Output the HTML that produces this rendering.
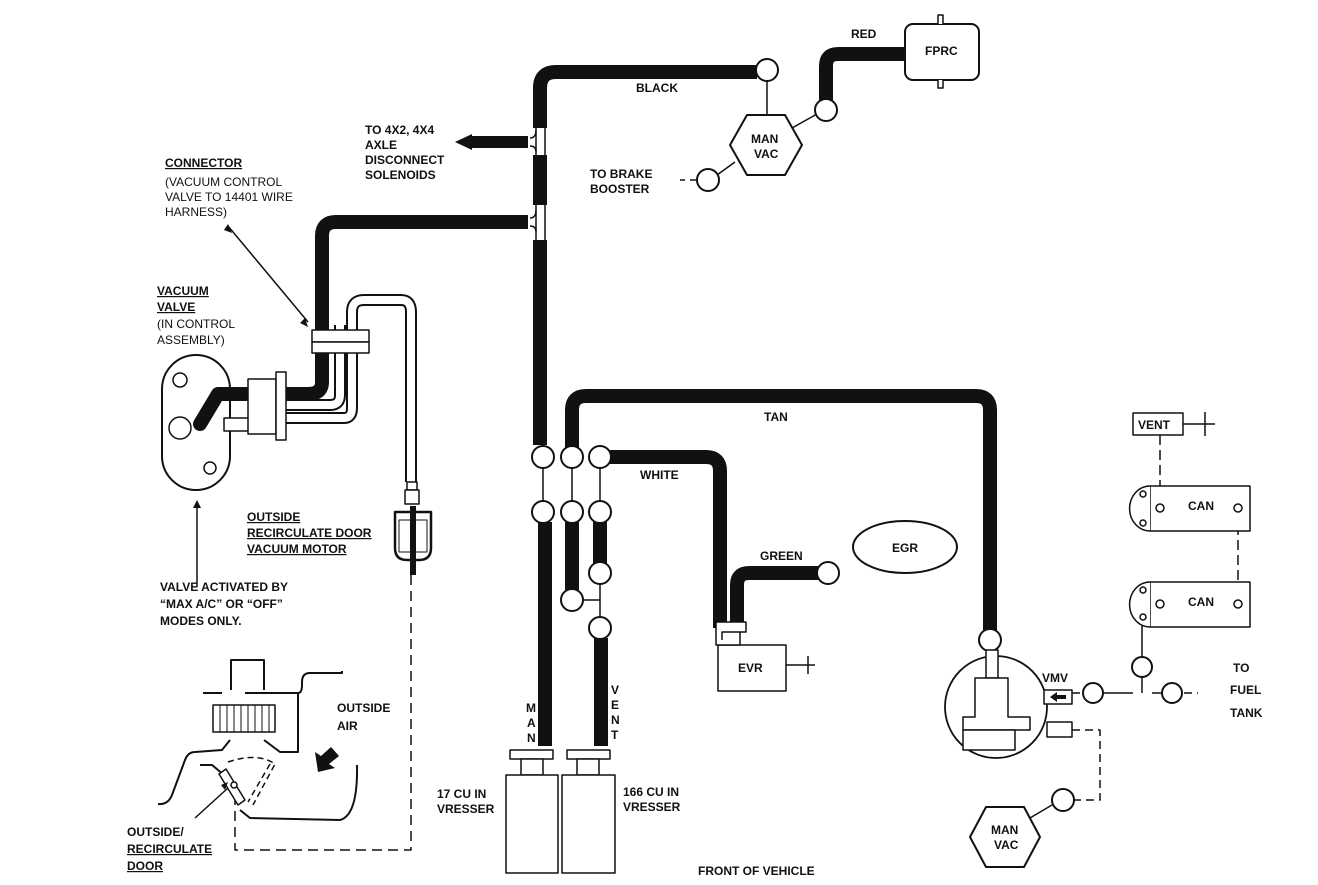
<!DOCTYPE html>
<html><head><meta charset="utf-8"><style>
html,body{margin:0;padding:0;background:#fff;}
svg{display:block;}
text{font-family:"Liberation Sans",sans-serif;font-weight:bold;font-size:12px;fill:#111;}
.r{font-weight:normal;}
</style></head><body>
<svg width="1318" height="885" viewBox="0 0 1318 885" xmlns="http://www.w3.org/2000/svg">
<g fill="none" stroke="#111" stroke-linecap="butt" stroke-linejoin="round">
<path d="M540,128 L540,88 Q540,72 556,72 L757,72" stroke-width="14"/>
<path d="M540,155 L540,205" stroke-width="14"/>
<path d="M540,240 L540,445" stroke-width="14"/>
<path d="M545,522 L545,746" stroke-width="14"/>
<path d="M536,128 L536,155 M545,128 L545,155 M536,205 L536,240 M545,205 L545,240" stroke-width="1.5"/>
<path d="M530,138 Q536,138 536,130 M530,146 Q536,146 536,152" stroke-width="1.5"/>
<path d="M530,218 Q536,218 536,210 M530,226 Q536,226 536,232" stroke-width="1.5"/>
<path d="M528,142 L470,142" stroke-width="12"/>
<path d="M528,222 L336,222 Q322,222 322,236 L322,382 Q322,394 308,394 L285,394" stroke-width="14"/>
<path d="M248,394 L218,394 L200,424" stroke-width="14" stroke-linecap="round"/>
<path d="M572,447 L572,410 Q572,396 586,396 L976,396 Q990,396 990,410 L990,630" stroke-width="14"/>
<path d="M572,522 L572,590" stroke-width="14"/>
<path d="M610,457 L706,457 Q720,457 720,471 L720,628" stroke-width="14"/>
<path d="M600,522 L600,563" stroke-width="14"/>
<path d="M601,638 L601,746" stroke-width="14"/>
<path d="M737,630 L737,585 Q737,573 749,573 L818,573" stroke-width="14"/>
<path d="M826,100 L826,66 Q826,54 838,54 L905,54" stroke-width="14"/>
<g stroke-width="1.5">
<path d="M543,467 L543,502 M572,467 L572,502 M600,467 L600,502"/>
<path d="M583,600 L600,600 L600,618 M600,583 L600,600"/>
<path d="M767,81 L767,115 M792,128 L817,114 M735,162 L717,175"/>
<path d="M1160,435 L1160,500" stroke-dasharray="10,5"/>
<path d="M1238,510 L1238,598" stroke-dasharray="10,5"/>
<path d="M1142,625 L1142,657"/>
<path d="M1142,677 L1142,693 M1103,693 L1133,693 M1152,693 L1162,693"/>
<path d="M1184,693 L1198,693 M1072,693 L1083,693" stroke-dasharray="8,5"/>
<path d="M1072,730 L1100,730 L1100,800 L1073,800" stroke-dasharray="8,5"/>
<path d="M1052,805 L1030,818"/>
<path d="M698,180 L680,180" stroke-dasharray="8,5"/>
<path d="M786,665 L815,665 M808,656 L808,674"/>
<path d="M1183,424 L1215,424 M1205,412 L1205,436"/>
<path d="M228,226 L308,322"/>
<path d="M197,587 L197,505"/>
<path d="M411,575 L411,850 L235,850 L235,792" stroke-dasharray="10,6"/>
</g>
<g fill="#fff" stroke-width="2">
<circle cx="767" cy="70" r="11"/><circle cx="826" cy="110" r="11"/><circle cx="708" cy="180" r="11"/>
<circle cx="543" cy="457" r="11"/><circle cx="572" cy="457" r="11"/><circle cx="600" cy="457" r="11"/>
<circle cx="543" cy="512" r="11"/><circle cx="572" cy="512" r="11"/><circle cx="600" cy="512" r="11"/>
<circle cx="600" cy="573" r="11"/><circle cx="572" cy="600" r="11"/><circle cx="600" cy="628" r="11"/>
<circle cx="828" cy="573" r="11"/><circle cx="990" cy="640" r="11"/>
<circle cx="1142" cy="667" r="10"/><circle cx="1093" cy="693" r="10"/><circle cx="1172" cy="693" r="10"/>
<circle cx="1063" cy="800" r="11"/>
</g>
<polygon points="747,115 785,115 802,145 785,175 747,175 730,145" fill="#fff" stroke-width="2"/>
<polygon points="986,807 1024,807 1040,837 1024,867 986,867 970,837" fill="#fff" stroke-width="2"/>
<rect x="905" y="24" width="74" height="56" rx="8" fill="#fff" stroke-width="2"/>
<path d="M938,24 L938,15 L943,15 L943,24 M938,80 L938,88 L943,88 L943,80" stroke-width="1.5" fill="#fff"/>
<ellipse cx="905" cy="547" rx="52" ry="26" fill="#fff" stroke-width="2"/>
<rect x="718" y="645" width="68" height="46" fill="#fff" stroke-width="1.5"/>
<path d="M716,622 L746,622 L746,632 L740,632 L740,645 L716,645 Z M722,640 L722,632 L740,632" stroke-width="1.5" fill="#fff"/>
<g stroke-width="1.5" fill="#fff">
<rect x="510" y="750" width="43" height="9"/><rect x="521" y="759" width="22" height="16"/><rect x="506" y="775" width="52" height="98"/>
<rect x="567" y="750" width="43" height="9"/><rect x="577" y="759" width="22" height="16"/><rect x="562" y="775" width="53" height="98"/>
</g>
<rect x="1133" y="413" width="50" height="22" fill="#fff" stroke-width="1.5"/>
<g stroke-width="1.5" fill="#fff">
<rect x="1150" y="486" width="100" height="45"/><path d="M1150,486 A20,22 0 0,0 1150,531"/>
<rect x="1150" y="582" width="100" height="45"/><path d="M1150,582 A20,22 0 0,0 1150,627"/>
<circle cx="1160" cy="508" r="4"/><circle cx="1238" cy="508" r="4"/><circle cx="1143" cy="494" r="3"/><circle cx="1143" cy="523" r="3"/>
<circle cx="1160" cy="604" r="4"/><circle cx="1238" cy="604" r="4"/><circle cx="1143" cy="590" r="3"/><circle cx="1143" cy="617" r="3"/>
</g>
<circle cx="996" cy="707" r="51" fill="#fff" stroke-width="1.8"/>
<g stroke-width="1.5" fill="#fff">
<rect x="986" y="650" width="12" height="28"/>
<path d="M975,678 L1008,678 L1008,717 L1030,717 L1030,730 L963,730 L963,717 L975,717 Z"/>
<rect x="963" y="730" width="52" height="20"/>
<rect x="1044" y="690" width="28" height="14"/><rect x="1047" y="722" width="25" height="15"/>
</g>
<path d="M1066,697 L1055,697" stroke-width="4"/><path d="M1050,697 L1057,692 L1057,702 Z" fill="#111" stroke="none"/>
<rect x="162" y="355" width="68" height="135" rx="34" fill="none" stroke-width="2"/>
<g stroke-width="1.5" fill="#fff">
<circle cx="180" cy="380" r="7"/><circle cx="180" cy="428" r="11"/><circle cx="210" cy="468" r="6"/>
</g>
<path d="M285,418 L344,418 Q352,418 352,408 L352,312 Q352,300 364,300 L401,300 Q411,300 411,312 L411,482" stroke-width="12"/>
<path d="M285,418 L344,418 Q352,418 352,408 L352,312 Q352,300 364,300 L401,300 Q411,300 411,312 L411,482" stroke-width="8" stroke="#fff"/>
<path d="M285,405 L330,405 Q340,405 340,395 L340,325" stroke-width="12"/>
<path d="M285,405 L330,405 Q340,405 340,395 L340,325" stroke-width="8" stroke="#fff"/>
<g stroke-width="1.5" fill="#fff">
<rect x="312" y="330" width="57" height="12"/><rect x="312" y="342" width="57" height="11"/>
<rect x="224" y="418" width="26" height="13"/>
<rect x="248" y="379" width="28" height="55"/><rect x="276" y="372" width="10" height="68"/>
<rect x="407" y="482" width="10" height="8"/><rect x="405" y="490" width="14" height="14"/>
<path d="M395,512 L431,512 L431,548 Q431,560 419,560 L407,560 Q395,560 395,548 Z" stroke-width="2.5"/>
<path d="M399,520 L427,520 L427,552 L399,552 Z" stroke-width="1"/>
</g>
<path d="M413,506 L413,575" stroke-width="6"/>
<g stroke-width="2">
<path d="M231,690 L231,660 L264,660 L264,690"/>
<path d="M203,693 L222,693 M245,693 L298,693 Q302,693 302,685 L302,682 Q302,673 310,673 L342,673 L342,671"/>
<rect x="213" y="705" width="62" height="27" stroke-width="1.5"/>
<path d="M220,705 V732 M227,705 V732 M234,705 V732 M241,705 V732 M248,705 V732 M255,705 V732 M262,705 V732 M269,705 V732" stroke-width="1"/>
<path d="M298,693 L298,752 L280,752 L264,740"/>
<path d="M230,740 L222,750 L195,752 Q188,752 185,760 L172,795 Q168,805 158,804"/>
<path d="M200,765 L212,765 L224,775"/>
<path d="M240,810 L250,818 L340,820 Q358,815 357,765"/>
<path d="M226,769 L245,800 L238,805 L219,774 Z" stroke-width="1.5" fill="#fff"/>
<path d="M228,762 Q258,752 275,764 L253,805" stroke-dasharray="6,4" stroke-width="1.5"/>
<path d="M270,764 L248,802" stroke-dasharray="6,4" stroke-width="1.5"/>
<path d="M195,818 L228,788" stroke-width="1.5"/>
</g>
<circle cx="234" cy="785" r="3" fill="#fff" stroke-width="1.5"/>
<path d="M228,782 L221,785 L225,790 Z" fill="#111" stroke="none"/>
<path d="M232,233 L228,224 L224,230 Z M308,327 L300,323 L305,318 Z" fill="#111" stroke="none"/>
<path d="M197,500 L193,508 L201,508 Z" fill="#111" stroke="none"/>
</g>
<path d="M472,134 L455,142 L472,150 Z" fill="#111"/>
<polygon points="318,772 315,752 321,756 331,747 339,756 329,764 335,768" fill="#111"/>
<text x="165" y="167" text-decoration="underline">CONNECTOR</text>
<text class="r" x="165" y="186">(VACUUM CONTROL</text>
<text class="r" x="165" y="201">VALVE TO 14401 WIRE</text>
<text class="r" x="165" y="216">HARNESS)</text>
<text x="157" y="295" text-decoration="underline">VACUUM</text>
<text x="157" y="311" text-decoration="underline">VALVE</text>
<text class="r" x="157" y="328">(IN CONTROL</text>
<text class="r" x="157" y="344">ASSEMBLY)</text>
<text x="365" y="134">TO 4X2, 4X4</text>
<text x="365" y="149">AXLE</text>
<text x="365" y="164">DISCONNECT</text>
<text x="365" y="179">SOLENOIDS</text>
<text x="636" y="92">BLACK</text>
<text x="851" y="38">RED</text>
<text x="925" y="55">FPRC</text>
<text x="751" y="143">MAN</text><text x="754" y="158">VAC</text>
<text x="590" y="178">TO BRAKE</text><text x="590" y="193">BOOSTER</text>
<text x="764" y="421">TAN</text>
<text x="640" y="479">WHITE</text>
<text x="760" y="560">GREEN</text>
<text x="892" y="552">EGR</text>
<text x="738" y="672">EVR</text>
<text x="1138" y="429">VENT</text>
<text x="1188" y="510">CAN</text>
<text x="1188" y="606">CAN</text>
<text x="1042" y="682">VMV</text>
<text x="1233" y="672">TO</text><text x="1230" y="694">FUEL</text><text x="1230" y="717">TANK</text>
<text x="991" y="834">MAN</text><text x="994" y="849">VAC</text>
<text x="247" y="521" text-decoration="underline">OUTSIDE</text>
<text x="247" y="537" text-decoration="underline">RECIRCULATE DOOR</text>
<text x="247" y="553" text-decoration="underline">VACUUM MOTOR</text>
<text x="160" y="591">VALVE ACTIVATED BY</text>
<text x="160" y="608">“MAX A/C” OR “OFF”</text>
<text x="160" y="625">MODES ONLY.</text>
<text x="337" y="712">OUTSIDE</text><text x="337" y="730">AIR</text>
<text x="127" y="836">OUTSIDE/</text>
<text x="127" y="853" text-decoration="underline">RECIRCULATE</text>
<text x="127" y="870" text-decoration="underline">DOOR</text>
<text x="437" y="798">17 CU IN</text><text x="437" y="813">VRESSER</text>
<text x="623" y="796">166 CU IN</text><text x="623" y="811">VRESSER</text>
<text x="698" y="875">FRONT OF VEHICLE</text>
<text x="526" y="712">M</text><text x="527" y="727">A</text><text x="527" y="742">N</text>
<text x="611" y="694">V</text><text x="611" y="709">E</text><text x="611" y="724">N</text><text x="611" y="739">T</text>
</svg>
</body></html>
